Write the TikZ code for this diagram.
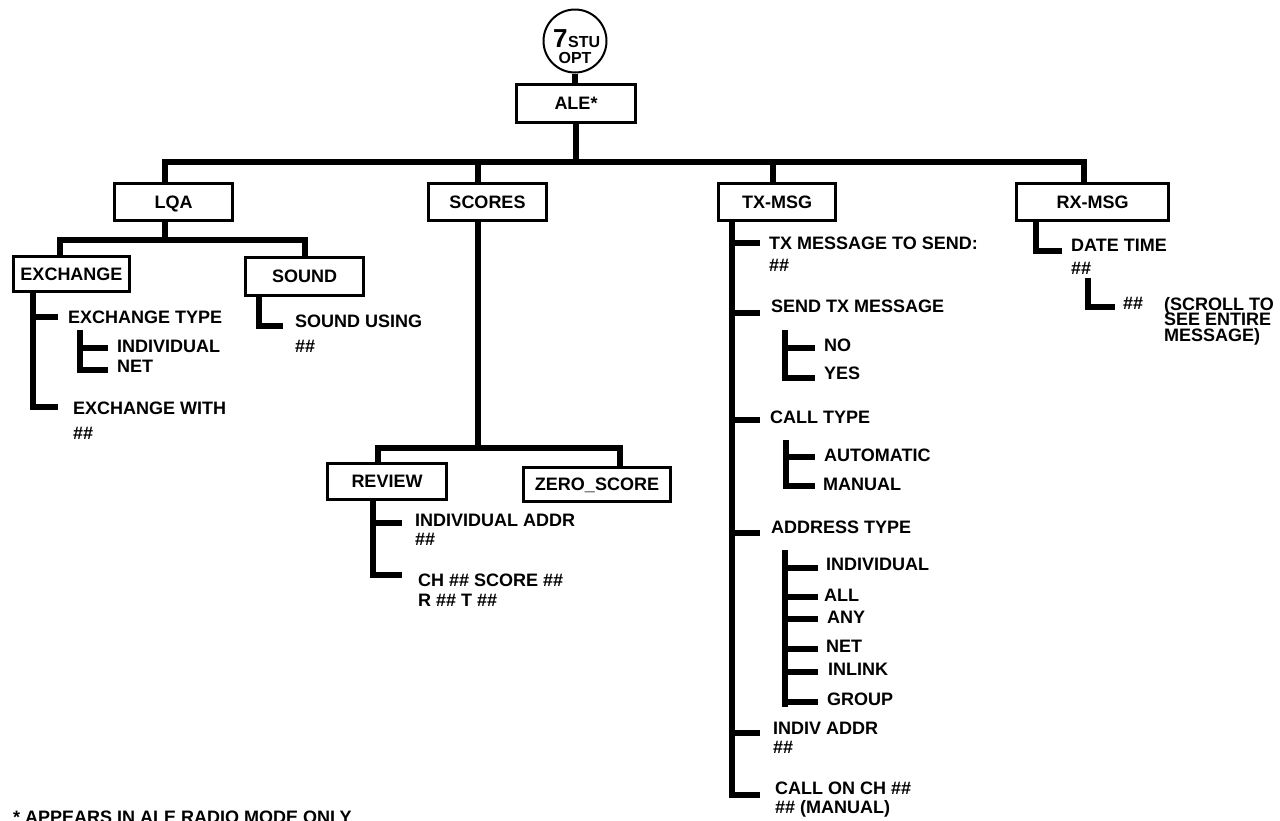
\documentclass[tikz,border=0pt]{standalone}
\usepackage{fontspec}
\setmainfont{Liberation Sans}
\newcommand\labfont{\fontsize{18}{20}\selectfont\bfseries\lineskiplimit=-30pt\relax}
\tikzset{
  x=1pt, y=-1pt,
  box/.style={draw, line width=3pt, inner sep=0pt, text height=12.9pt, text depth=0pt, font=\labfont},
  lab/.style={anchor=north west, inner sep=0pt, align=left, font=\labfont},
  conn/.style={line width=5.3pt, line join=miter, line cap=butt}
}
\begin{document}
\begin{tikzpicture}
\useasboundingbox (0,0) rectangle (1280,820);
\fill[white] (0,0) rectangle (1280,820);

% top key
\node[draw, circle, line width=2pt, minimum size=63pt, inner sep=0pt] (opt) at (575,41) {};
\node[anchor=base west, inner sep=0pt, font=\fontsize{26}{26}\selectfont\bfseries] (t7) at (553,47) {7};
\node[anchor=base west, inner sep=0pt, font=\fontsize{16}{16}\selectfont\bfseries] (tstu) at (568,47) {STU};
\node[anchor=base, inner sep=0pt, font=\fontsize{16}{16}\selectfont\bfseries] (topt) at (575,63) {OPT};

% boxes
\node[box, minimum width=119pt, minimum height=38pt] (ale) at (576,103.5) {ALE*};
\node[box, minimum width=118pt, minimum height=37pt] (lqa) at (173.5,202) {LQA};
\node[box, minimum width=118pt, minimum height=37pt] (scores) at (487.5,202) {SCORES};
\node[box, minimum width=117pt, minimum height=37pt] (tx) at (777,202) {TX-MSG};
\node[box, minimum width=152pt, minimum height=37pt] (rx) at (1092.5,202) {RX-MSG};
\node[box, minimum width=116pt, minimum height=35pt] (exch) at (71.5,274) {EXCHANGE};
\node[box, minimum width=118pt, minimum height=38pt] (sound) at (304.5,276.5) {SOUND};
\node[box, minimum width=119pt, minimum height=36pt] (review) at (387,481.5) {REVIEW};
\node[box, minimum width=147pt, minimum height=34pt] (zero) at (597,484.5) {ZERO\_SCORE};

% labels: LQA
\node[lab] (exType) at (68,310.5) {EXCHANGE TYPE};
\node[lab] (exInd) at (117,340) {INDIVIDUAL};
\node[lab] (exNet) at (117,360) {NET};
\node[lab] (exWith) at (73,402) {EXCHANGE WITH\\[5pt]\#\#};
\node[lab] (sndUse) at (295,315) {SOUND USING\\[5pt]\#\#};
% labels: SCORES
\node[lab] (revAddr) at (415,513.5) {INDIVIDUAL ADDR\\[-1pt]\#\#};
\node[lab] (revCh) at (418,573.5) {CH \#\# SCORE \#\#\\[0.7pt]R \#\# T \#\#};
% labels: TX
\node[lab] (txMsg) at (769,236.5) {TX MESSAGE TO SEND:\\[2pt]\#\#};
\node[lab] (txSend) at (771,300) {SEND TX MESSAGE};
\node[lab] (txNo) at (824,338.5) {NO};
\node[lab] (txYes) at (824,367) {YES};
\node[lab] (txCall) at (770,411) {CALL TYPE};
\node[lab] (txAuto) at (824,448.5) {AUTOMATIC};
\node[lab] (txMan) at (823,477.5) {MANUAL};
\node[lab] (txAddr) at (771,521) {ADDRESS TYPE};
\node[lab] (aInd) at (826,557.7) {INDIVIDUAL};
\node[lab] (aAll) at (824,588.5) {ALL};
\node[lab] (aAny) at (827,610.8) {ANY};
\node[lab] (aNet) at (826,639.5) {NET};
\node[lab] (aInl) at (828,663.2) {INLINK};
\node[lab] (aGrp) at (827,692.5) {GROUP};
\node[lab] (txIndiv) at (773,721.5) {INDIV ADDR\\[-0.5pt]\#\#};
\node[lab] (txCallOn) at (775,781.5) {CALL ON CH \#\#\\[-1pt]\#\# (MANUAL)};
% labels: RX
\node[lab] (rxDate) at (1071,238.5) {DATE TIME\\[3pt]\#\#};
\node[lab] (rxHash) at (1123,297.5) {\#\#};
\node[lab] (rxScroll) at (1164,297) {(SCROLL TO\\[-4.4pt]SEE ENTIRE\\[-4.4pt]MESSAGE)};
% footnote
\node[anchor=base west, inner sep=0pt, font=\labfont] (fnote) at (13,823) {* APPEARS IN ALE RADIO MODE ONLY};

% ---- connectors ----
\draw[conn] (opt.south) -- (opt.south |- ale.north);
\coordinate (busL) at (165,162);
\coordinate (busR) at (1084,162);
\coordinate (bS) at (478,162);
\coordinate (bT) at (773,162);
\draw[conn] (ale.south) -- (ale.south |- busL);
\draw[conn] (lqa.north -| busL) -- (busL) -- (busR) -- (rx.north -| busR);
\draw[conn] (bS) -- (bS |- scores.north);
\draw[conn] (bT) -- (bT |- tx.north);

% LQA subtree
\coordinate (lq1) at (165,240);
\coordinate (lqL) at (60,240);
\coordinate (lqR) at (305,240);
\draw[conn] (lqa.south -| lq1) -- (lq1);
\draw[conn] (exch.north -| lqL) -- (lqL) -- (lqR) -- (sound.north -| lqR);
% EXCHANGE
\coordinate (ex1) at (33,317);  \coordinate (ex1e) at (58,317);
\coordinate (ex2) at (33,407);  \coordinate (ex2e) at (58,407);
\draw[conn] (exch.south -| ex2) -- (ex2) -- (ex2e);
\draw[conn] (ex1) -- (ex1e);
\coordinate (es0) at (80,330);
\coordinate (es1) at (80,348); \coordinate (es1e) at (108,348);
\coordinate (es2) at (80,370); \coordinate (es2e) at (108,370);
\draw[conn] (es0) -- (es2) -- (es2e);
\draw[conn] (es1) -- (es1e);
% SOUND
\coordinate (sn1) at (259,326); \coordinate (sn1e) at (283,326);
\draw[conn] (sound.south -| sn1) -- (sn1) -- (sn1e);

% SCORES subtree
\coordinate (sc1) at (478,448);
\coordinate (scL) at (378,448);
\coordinate (scR) at (620,448);
\draw[conn] (scores.south -| sc1) -- (sc1);
\draw[conn] (review.north -| scL) -- (scL) -- (scR) -- (zero.north -| scR);
\coordinate (rv1) at (373,523); \coordinate (rv1e) at (402,523);
\coordinate (rv2) at (373,575); \coordinate (rv2e) at (402,575);
\draw[conn] (review.south -| rv2) -- (rv2) -- (rv2e);
\draw[conn] (rv1) -- (rv1e);

% TX subtree
\coordinate (tb) at (732,795); \coordinate (tbe) at (760,795);
\draw[conn] (tx.south -| tb) -- (tb) -- (tbe);
\foreach \yy [count=\i] in {243,313,420,533,733}{
  \draw[conn] (732,\yy) coordinate (tr\i) -- (760,\yy) coordinate (tre\i);
}
\coordinate (ny0) at (785,330);
\coordinate (ny1) at (785,348); \coordinate (ny1e) at (815,348);
\coordinate (ny2) at (785,378); \coordinate (ny2e) at (815,378);
\draw[conn] (ny0) -- (ny2) -- (ny2e);
\draw[conn] (ny1) -- (ny1e);
\coordinate (am0) at (786,440);
\coordinate (am1) at (786,457); \coordinate (am1e) at (815,457);
\coordinate (am2) at (786,486); \coordinate (am2e) at (815,486);
\draw[conn] (am0) -- (am2) -- (am2e);
\draw[conn] (am1) -- (am1e);
\coordinate (ad0) at (785,550);
\coordinate (ad9) at (785,707);
\draw[conn] (ad0) -- (ad9);
\foreach \yy [count=\i] in {568,597,619,649,672,702}{
  \draw[conn] (785,\yy) coordinate (as\i) -- (818,\yy) coordinate (ase\i);
}

% RX subtree
\coordinate (rx1) at (1036,251); \coordinate (rx1e) at (1062,251);
\draw[conn] (rx.south -| rx1) -- (rx1) -- (rx1e);
\coordinate (rs0) at (1088,278);
\coordinate (rs1) at (1088,307); \coordinate (rs1e) at (1115,307);
\draw[conn] (rs0) -- (rs1) -- (rs1e);
\end{tikzpicture}
\end{document}
